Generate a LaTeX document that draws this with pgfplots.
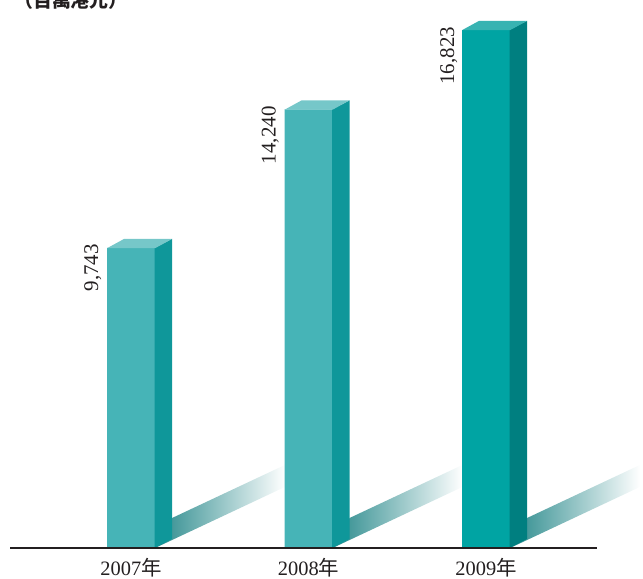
\documentclass[border=0pt]{standalone}
\usepackage{fontspec}
\setmainfont{Liberation Serif}
\newfontfamily\cjk{Noto Sans CJK TC}
\usepackage{pgfplots}
\pgfplotsset{compat=1.18}
\definecolor{frontA}{HTML}{46B4B7}
\definecolor{sideA}{HTML}{0F979A}
\definecolor{topA}{HTML}{76C7C9}
\definecolor{frontB}{HTML}{00A4A3}
\definecolor{sideB}{HTML}{007F80}
\definecolor{topB}{HTML}{38B3B2}
\definecolor{shad}{HTML}{2A8A8C}
\definecolor{txt}{HTML}{231F20}
\begin{document}
\begin{tikzpicture}
\useasboundingbox (0,0) rectangle (643bp,579bp);
\begin{axis}[
  at={(10bp,31bp)}, anchor=south west,
  scale only axis, width=587bp, height=548bp,
  xmin=-0.682, xmax=2.625, ymin=0, ymax=17792,
  hide axis, clip=false,
]
% shadows
\addplot[draw=none, left color=shad, right color=white] coordinates {(0.1352,0) (0.8672,1983) (0.8672,2697) (0.2310,974)};
\addplot[draw=none, left color=shad, right color=white] coordinates {(1.1352,0) (1.8672,1983) (1.8672,2697) (1.2310,974)};
\addplot[draw=none, left color=shad, right color=white] coordinates {(2.1352,0) (2.8672,1983) (2.8672,2697) (2.2310,974)};
% front faces
\addplot[ybar, bar shift=0pt, bar width=0.2704, draw=none, fill=frontA] coordinates {(0,9743) (1,14240)};
\addplot[ybar, bar shift=0pt, bar width=0.2704, draw=none, fill=frontB] coordinates {(2,16823)};
% side faces
\addplot[draw=none, fill=sideA] coordinates {(0.1322,0) (0.2310,292) (0.2310,10035) (0.1322,9743)};
\addplot[draw=none, fill=sideA] coordinates {(1.1322,0) (1.2310,292) (1.2310,14532) (1.1322,14240)};
\addplot[draw=none, fill=sideB] coordinates {(2.1322,0) (2.2310,292) (2.2310,17115) (2.1322,16823)};
% top faces
\addplot[draw=none, fill=topA] coordinates {(-0.1352,9733) (0.1352,9733) (0.2310,10035) (-0.0394,10035)};
\addplot[draw=none, fill=topA] coordinates {(0.8648,14230) (1.1352,14230) (1.2310,14532) (0.9606,14532)};
\addplot[draw=none, fill=topB] coordinates {(1.8648,16813) (2.1352,16813) (2.2310,17115) (1.9606,17115)};
% baseline
\addplot[line width=2.2bp, color=txt] coordinates {(-0.682,0) (2.625,0)};
% value labels
\node[rotate=90, anchor=base east, font=\fontsize{21}{24}\selectfont, text=txt, inner sep=0pt] at (axis cs:-0.186,9870) {9,743};
\node[rotate=90, anchor=base east, font=\fontsize{21}{24}\selectfont, text=txt, inner sep=0pt] at (axis cs:0.814,14340) {14,240};
\node[rotate=90, anchor=base east, font=\fontsize{21}{24}\selectfont, text=txt, inner sep=0pt] at (axis cs:1.820,16920) {16,823};
% year labels
\node[anchor=base, font=\fontsize{20.5}{24}\selectfont, text=txt, inner sep=0pt, yshift=-27bp] at (axis cs:0,0) {2007{\cjk 年}};
\node[anchor=base, font=\fontsize{20.5}{24}\selectfont, text=txt, inner sep=0pt, yshift=-27bp] at (axis cs:1,0) {2008{\cjk 年}};
\node[anchor=base, font=\fontsize{20.5}{24}\selectfont, text=txt, inner sep=0pt, yshift=-27bp] at (axis cs:2,0) {2009{\cjk 年}};
\end{axis}
\node[anchor=base west, font=\cjk\bfseries\fontsize{19}{22}\selectfont, text=txt, inner sep=0pt] at (14bp,571bp) {（百萬港元）};
\end{tikzpicture}
\end{document}
